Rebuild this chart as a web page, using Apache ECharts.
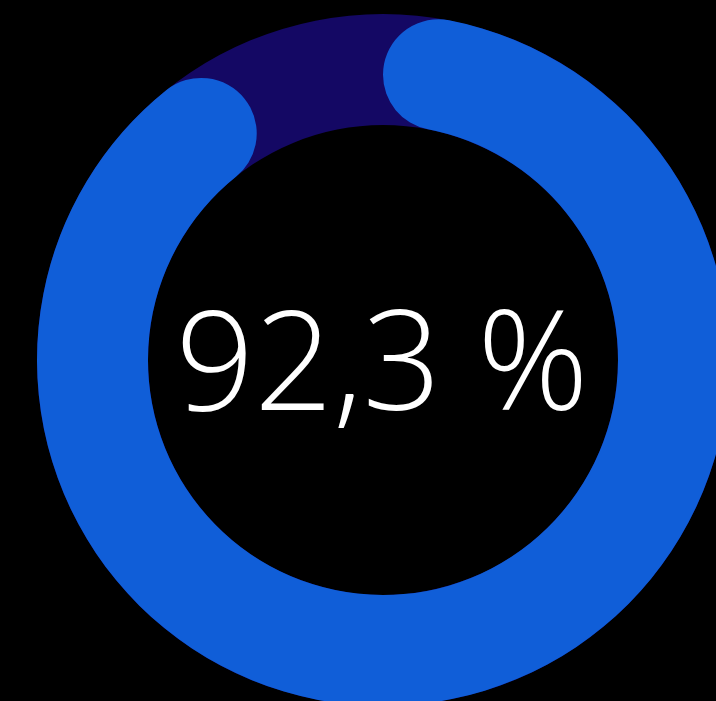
<!DOCTYPE html>
<html>
<head>
<meta charset="utf-8">
<script src="https://cdn.jsdelivr.net/npm/echarts@6/dist/echarts.min.js"></script>
<style>
html,body{margin:0;padding:0;background:#000;}
#chart{width:716px;height:701px;}
</style>
</head>
<body>
<div id="chart"></div>
<script>
const percentValue = 92.3;
const totalValue = 100;
const progressColor = '#105ED8';
const trackColor = '#140864';

const chart = echarts.init(document.getElementById('chart'));
const labelText = percentValue.toFixed(1).replace('.', ',') + ' %';
const center = [383, 360];
const radius = [235, 346];

chart.setOption({
  backgroundColor: '#000000',
  animation: false,
  series: [
    {
      type: 'pie',
      center: center,
      radius: radius,
      silent: true,
      label: { show: false },
      labelLine: { show: false },
      data: [{ value: totalValue, itemStyle: { color: trackColor } }],
      z: 1
    },
    {
      type: 'pie',
      center: center,
      radius: radius,
      startAngle: 90,
      clockwise: true,
      silent: true,
      label: { show: false },
      labelLine: { show: false },
      data: [
        { value: percentValue, itemStyle: { color: progressColor, borderRadius: 56 } },
        { value: totalValue - percentValue, itemStyle: { color: 'rgba(0,0,0,0)' } }
      ],
      z: 2
    }
  ],
  graphic: [{
    type: 'text',
    x: 382,
    y: 371,
    z: 10,
    style: {
      text: labelText,
      fill: '#ffffff',
      font: '300 138px "Open Sans", sans-serif',
      textAlign: 'center',
      textVerticalAlign: 'middle'
    }
  }]
});
</script>
</body>
</html>
